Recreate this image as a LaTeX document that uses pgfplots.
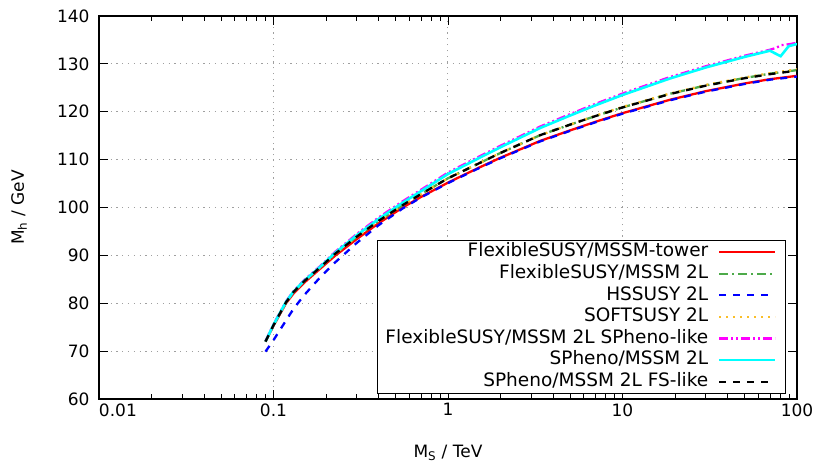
\documentclass[border=0pt]{standalone}
\usepackage{fontspec}
\setmainfont{DejaVu Sans}
\usepackage{pgfplots}
\usepackage{pgfplotstable}
\pgfplotsset{compat=1.18}

\definecolor{cRed}{RGB}{255,0,0}
\definecolor{cGreen}{RGB}{77,170,74}
\definecolor{cBlue}{RGB}{0,0,255}
\definecolor{cYellow}{RGB}{250,190,40}
\definecolor{cMag}{RGB}{255,0,255}
\definecolor{cCyan}{RGB}{0,255,255}

\pgfplotstableread{
x y
0.09 72.0
0.1 75.3
0.118 80.0
0.13 82.0
0.15 84.3
0.185 87.2
0.225 89.9
0.3 93.4
0.4 96.7
0.55 100.0
0.7 102.2
1 105.2
1.5 108.3
2 110.4
3.37 113.9
5 116.1
7 117.9
10 119.7
18.7 122.5
30 124.3
50 125.9
70 126.8
100 127.5
}\tower

\pgfplotstableread{
x y
0.09 72.0
0.1 75.4
0.118 80.2
0.13 82.3
0.15 84.6
0.185 87.5
0.225 90.3
0.3 93.9
0.4 97.2
0.55 100.5
0.7 102.8
1 106.1
1.5 109.2
2 111.4
3.37 115.1
5 117.3
7 119.1
10 120.9
18.7 123.75
30 125.5
50 127.05
70 127.95
100 128.7
}\fstwo

\pgfplotstableread{
x y
0.09 69.9
0.1 72.3
0.118 76.4
0.13 78.8
0.15 81.7
0.185 85.4
0.225 88.5
0.3 92.6
0.4 96.3
0.55 99.8
0.7 102.1
1 105.1
1.5 108.2
2 110.3
3.37 113.8
5 116.0
7 117.8
10 119.6
18.7 122.4
30 124.2
50 125.8
70 126.7
100 127.35
}\hssusy

\pgfplotstableread{
x y
0.09 72.0
0.1 75.4
0.118 80.2
0.13 82.3
0.15 84.6
0.185 87.5
0.225 90.3
0.3 93.9
0.4 97.2
0.55 100.5
0.7 102.8
1 106.1
1.5 109.2
2 111.4
3.37 115.1
5 117.3
7 119.15
10 121.0
18.7 123.8
30 125.6
50 127.15
70 128.05
100 128.85
}\softsusy

\pgfplotstableread{
x y
0.09 72.1
0.1 75.6
0.118 80.4
0.13 82.5
0.15 84.85
0.185 87.75
0.225 90.7
0.3 94.45
0.4 97.9
0.55 101.3
0.7 103.7
1 107.3
1.5 110.6
2 112.9
3.37 116.9
5 119.5
7 121.65
10 123.8
18.7 127.25
30 129.5
50 131.7
70 132.95
76 133.35
81 133.9
90 134.1
100 134.4
}\fsspheno

\pgfplotstableread{
x y
0.09 72.0
0.1 75.5
0.118 80.3
0.13 82.4
0.15 84.7
0.185 87.6
0.225 90.5
0.3 94.2
0.4 97.6
0.55 101.0
0.7 103.4
1 107.0
1.5 110.3
2 112.6
3.37 116.6
5 119.2
7 121.35
10 123.5
18.7 126.95
30 129.25
50 131.45
70 132.75
80.6 131.6
89.6 133.7
100 134.15
}\spheno

\pgfplotstableread{
x y
0.09 72.0
0.1 75.4
0.118 80.2
0.13 82.3
0.15 84.6
0.185 87.5
0.225 90.3
0.3 93.9
0.4 97.2
0.55 100.5
0.7 102.8
1 106.1
1.5 109.2
2 111.4
3.37 115.1
5 117.3
7 119.1
10 120.9
18.7 123.7
30 125.45
50 127.0
70 127.85
100 128.6
}\sphenofs

\begin{document}
\begin{tikzpicture}
\useasboundingbox (-99pt,-65pt) rectangle (721pt,399pt);
\begin{axis}[
  at={(0pt,0pt)}, anchor=south west,
  scale only axis, width=698pt, height=383pt,
  xmode=log, xmin=0.01, xmax=100, ymin=60, ymax=140,
  xtick={0.01,0.1,1,10,100},
  xticklabels={\hphantom{0.01}0.01,0.1,1,10,100},
  ytick={60,70,...,140},
  minor y tick num=0,
  tick pos=both, tick align=inside,
  major tick length=9pt, minor tick length=5pt,
  every tick/.style={black, line width=0.9pt},
  axis line style={line width=1.3pt},
  grid=major,
  major grid style={gray!75, line width=1pt, dash pattern=on 1.3pt off 4.5pt},
  /pgf/number format/assume math mode=true,
  tick label style={font=\fontsize{17}{20}\selectfont},
  yticklabel style={xshift=-6pt},
  xticklabel style={yshift=-1pt},
  xlabel={M\textsubscript{S} / TeV},
  ylabel={M\textsubscript{h} / GeV},
  every axis x label/.style={at={(axis description cs:0.5,0)}, yshift=-54pt, anchor=center, font=\fontsize{17}{20}\selectfont},
  every axis y label/.style={at={(axis description cs:0,0.5)}, xshift=-80pt, rotate=90, anchor=center, font=\fontsize{17}{20}\selectfont},
  legend plot pos=right,
  legend cell align=right,
  legend image code/.code={\path[draw=none, fill=none] (0pt,0pt) rectangle (69pt,0.1pt); \draw[#1] (9pt,0pt) -- (65pt,0pt);},
  legend style={at={(axis description cs:0.984,0.013)}, anchor=south east,
    draw=black, line width=1.1pt, fill=white,
    font=\fontsize{18.5}{21.6}\selectfont,
    inner xsep=6pt, inner ysep=1pt, row sep=0pt,
    nodes={inner sep=2pt, text height=13.6pt, text depth=4pt}},
  every axis plot/.append style={line width=2.3pt},
]
\addplot[cRed, solid] table {\tower};
\addlegendentry{FlexibleSUSY/MSSM-tower}
\addplot[cGreen, dash pattern=on 9pt off 4pt on 2pt off 4pt] table {\fstwo};
\addlegendentry{FlexibleSUSY/MSSM 2L}
\addplot[cBlue, dash pattern=on 7pt off 7pt] table {\hssusy};
\addlegendentry{HSSUSY 2L}
\addplot[cYellow, dash pattern=on 2pt off 5pt] table {\softsusy};
\addlegendentry{SOFTSUSY 2L}
\addplot[cMag, dash pattern=on 9pt off 3pt on 2pt off 3pt on 2pt off 3pt] table {\fsspheno};
\addlegendentry{FlexibleSUSY/MSSM 2L SPheno-like}
\addplot[cCyan, solid, line width=2.6pt] table {\spheno};
\addlegendentry{SPheno/MSSM 2L}
\addplot[black, dash pattern=on 7pt off 7pt] table {\sphenofs};
\addlegendentry{SPheno/MSSM 2L FS-like}
\end{axis}
\end{tikzpicture}
\end{document}
